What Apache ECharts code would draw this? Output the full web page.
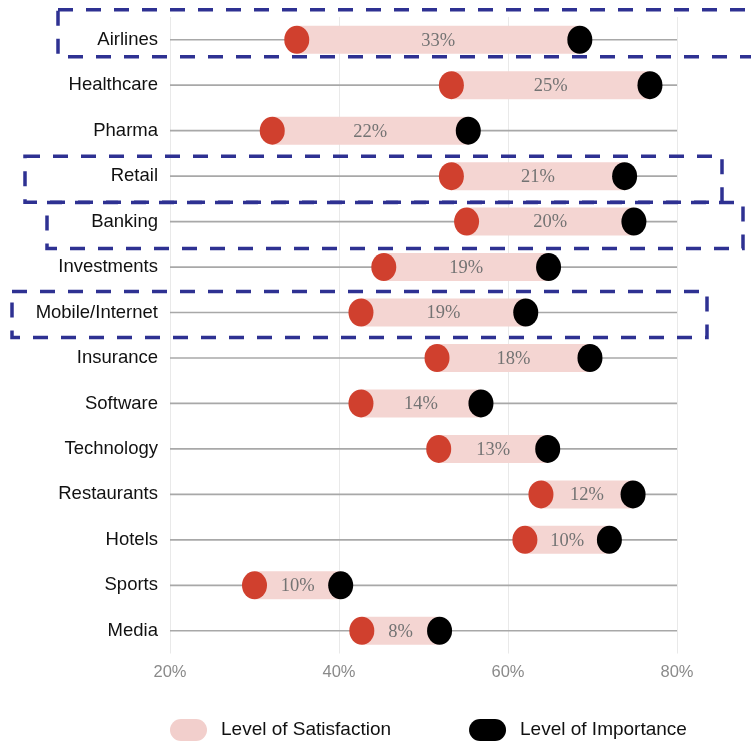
<!DOCTYPE html>
<html>
<head>
<meta charset="utf-8">
<script src="https://cdn.jsdelivr.net/npm/echarts@6/dist/echarts.min.js"></script>
<style>html,body{margin:0;padding:0;background:#fff}#main{width:751px;height:744px}</style>
</head>
<body>
<div id="main"></div>
<script>
const categories = ['Airlines','Healthcare','Pharma','Retail','Banking','Investments','Mobile/Internet','Insurance','Software','Technology','Restaurants','Hotels','Sports','Media'];
const satisfaction = [35, 53.3, 32.1, 53.3, 55.1, 45.3, 42.6, 51.6, 42.6, 51.8, 63.9, 62.0, 30.0, 42.7];
const importance = [68.5, 76.8, 55.3, 73.8, 74.9, 64.8, 62.1, 69.7, 56.8, 64.7, 74.8, 72.0, 40.2, 51.9];
const gapLabels = ['33%','25%','22%','21%','20%','19%','19%','18%','14%','13%','12%','10%','10%','8%'];
const xTicks = [20, 40, 60, 80];
const highlighted = ['Airlines','Retail','Banking','Mobile/Internet'];

const chart = echarts.init(document.getElementById('main'), null, {renderer:'canvas'});
const SANS = '"Liberation Sans", Arial, sans-serif';

const rangeData = categories.map((c, i) => [satisfaction[i], importance[i], i, gapLabels[i]]);
const PILL = 'path://M11,0 H26 A11,11 0 0 1 26,22 H11 A11,11 0 0 1 11,0 Z';

const option = {
  animation: false,
  grid: {left: 170, right: 74, top: 17, bottom: 90.5, outerBoundsMode: 'none'},
  xAxis: {
    type: 'value', min: xTicks[0], max: xTicks[xTicks.length-1], interval: 20,
    axisLine: {show: false}, axisTick: {show: false},
    axisLabel: {formatter: '{value}%', color: '#8a8a8a', fontSize: 16.5, fontFamily: SANS, margin: 10},
    splitLine: {lineStyle: {color: '#e9e9e9', width: 1}}
  },
  yAxis: {
    type: 'category', data: categories, inverse: true,
    axisLine: {show: false}, axisTick: {show: false},
    axisLabel: {color: '#111', fontSize: 18.5, fontFamily: SANS, margin: 12},
    splitLine: {show: false}
  },
  legend: {
    left: 170, top: 719, padding: 0, itemWidth: 37, itemHeight: 22, itemGap: 78, selectedMode: false,
    textStyle: {color: '#111', fontSize: 19, fontFamily: SANS, padding: [0,0,0,9]},
    data: [
      {name: 'Level of Satisfaction', icon: PILL, itemStyle: {color: '#f2cfcc'}},
      {name: 'Level of Importance', icon: PILL, itemStyle: {color: '#000'}}
    ]
  },
  series: [
    {
      name: 'Level of Satisfaction', type: 'custom', z: 2,
      itemStyle: {color: '#f4d5d2'},
      encode: {x: [0, 1], y: 2},
      data: rangeData,
      renderItem: function (params, api) {
        const idx = api.value(2);
        const pL = api.coord([xTicks[0], idx]);
        const pR = api.coord([xTicks[xTicks.length-1], idx]);
        const p0 = api.coord([api.value(0), idx]);
        const p1 = api.coord([api.value(1), idx]);
        const h = 28;
        return {
          type: 'group',
          children: [
            {type: 'line', shape: {x1: pL[0], y1: pL[1], x2: pR[0], y2: pR[1]}, style: {stroke: '#a8a8a8', lineWidth: 1.7}},
            {type: 'rect', shape: {x: p0[0], y: p0[1] - h/2, width: p1[0] - p0[0], height: h}, style: {fill: '#f4d5d2'}},
            {type: 'text', style: {text: rangeData[params.dataIndex][3], x: (p0[0] + p1[0]) / 2, y: p0[1] + 1, align: 'center', verticalAlign: 'middle', fontSize: 18.5, fontFamily: '"Liberation Serif", "DejaVu Serif", serif', fill: '#737373'}}
          ]
        };
      }
    },
    {
      name: 'satisfactionDot', type: 'scatter', z: 5,
      symbol: 'circle', symbolSize: [25, 28],
      itemStyle: {color: '#d0402e', opacity: 1},
      data: categories.map((c, i) => [satisfaction[i], c])
    },
    {
      name: 'Level of Importance', type: 'scatter', z: 5,
      symbol: 'circle', symbolSize: [25, 28],
      itemStyle: {color: '#000', opacity: 1},
      data: categories.map((c, i) => [importance[i], c])
    }
  ]
};
chart.setOption(option);

// dashed annotation boxes around highlighted rows
const boxes = {
  'Airlines': {x1: 58, x2: 775, dy1: -30, dy2: 17},
  'Retail': {x1: 25, x2: 722, dy1: -20, dy2: 26},
  'Banking': {x1: 47, x2: 743, dy1: -19, dy2: 27},
  'Mobile/Internet': {x1: 12, x2: 707, dy1: -21, dy2: 25}
};
const graphics = highlighted.map(name => {
  const b = boxes[name];
  const y = chart.convertToPixel({yAxisIndex: 0}, name);
  return {
    type: 'rect', z: 100,
    shape: {x: b.x1, y: y + b.dy1, width: b.x2 - b.x1, height: b.dy2 - b.dy1},
    style: {fill: null, stroke: '#2e3192', lineWidth: 3.5, lineDash: [15, 13]}
  };
});
chart.setOption({graphic: graphics});
</script>
</body>
</html>
